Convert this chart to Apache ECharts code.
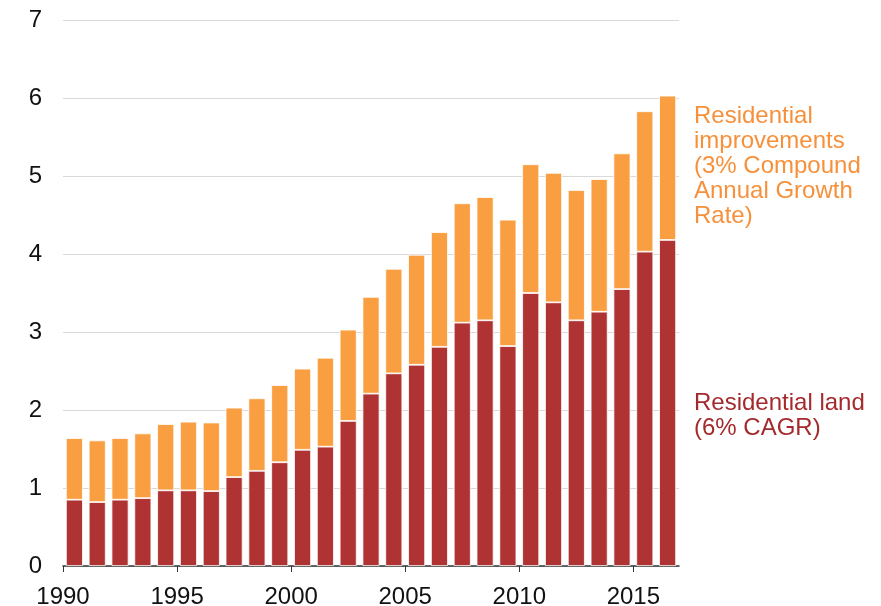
<!DOCTYPE html>
<html>
<head>
<meta charset="utf-8">
<script src="https://cdn.jsdelivr.net/npm/echarts@6/dist/echarts.min.js"></script>
<style>
  html, body { margin: 0; padding: 0; background: #fff; }
  #chart { width: 881px; height: 606px; }
</style>
</head>
<body>
<div id="chart"></div>
<script>
  // years 1990..2016
  const years = ['1990', '1991', '1992', '1993', '1994', '1995', '1996', '1997', '1998', '1999',
    '2000', '2001', '2002', '2003', '2004', '2005', '2006', '2007', '2008', '2009',
    '2010', '2011', '2012', '2013', '2014', '2015', '2016']
  // residential land (bottom, dark red)
  const landValues = [0.85, 0.82, 0.85, 0.87, 0.97, 0.97, 0.96, 1.14, 1.22, 1.33,
    1.49, 1.53, 1.86, 2.21, 2.47, 2.58, 2.81, 3.12, 3.15, 2.82,
    3.50, 3.38, 3.15, 3.26, 3.55, 4.03, 4.18]
  // residential improvements (top, orange)
  const improvementValues = [0.79, 0.79, 0.79, 0.83, 0.85, 0.88, 0.88, 0.89, 0.93, 0.99,
    1.04, 1.14, 1.17, 1.24, 1.34, 1.41, 1.47, 1.53, 1.58, 1.62,
    1.65, 1.66, 1.67, 1.70, 1.74, 1.80, 1.85]
  const yTicks = [0, 1, 2, 3, 4, 5, 6, 7]
  const xTickYears = [1990, 1995, 2000, 2005, 2010, 2015]

  const font = 'Liberation Sans, Arial, sans-serif'
  let mychart = echarts.init(document.getElementById('chart'))
  let options = {
    animation: false,
    grid: {
      left: 63,
      right: 202,
      top: 20,
      bottom: 40,
      containLabel: false,
      outerBoundsMode: 'none'
    },
    xAxis: [
      {
        type: 'category',
        data: years,
        axisLine: { show: false },
        axisTick: { show: false },
        axisLabel: { show: false }
      },
      {
        // year scale for boundary ticks/labels
        type: 'value',
        min: 1990,
        max: 2017,
        interval: 5,
        position: 'bottom',
        splitLine: { show: false },
        axisLine: { show: true, lineStyle: { color: '#333', width: 1.5 } },
        axisTick: { show: true, length: 6, lineStyle: { color: '#333' } },
        axisLabel: {
          color: '#111',
          fontSize: 24,
          fontFamily: font,
          margin: 19,
          showMaxLabel: false,
          formatter: (v) => xTickYears.indexOf(v) >= 0 ? String(v) : ''
        }
      }
    ],
    yAxis: {
      type: 'value',
      min: yTicks[0],
      max: yTicks[yTicks.length - 1],
      interval: 1,
      axisLine: { show: false },
      axisTick: { show: false },
      axisLabel: {
        color: '#111',
        fontSize: 24,
        fontFamily: font,
        margin: 21
      },
      splitLine: { lineStyle: { color: '#d9d9d9', width: 1 } }
    },
    series: [
      {
        name: 'Residential land',
        type: 'bar',
        stack: 'total',
        xAxisIndex: 0,
        barWidth: 17,
        data: landValues,
        itemStyle: { color: '#b03333', borderColor: '#fff', borderWidth: 0.8 }
      },
      {
        name: 'Residential improvements',
        type: 'bar',
        stack: 'total',
        xAxisIndex: 0,
        barWidth: 17,
        data: improvementValues,
        itemStyle: { color: '#f99e41', borderColor: '#fff', borderWidth: 0.8 }
      }
    ],
    graphic: [
      {
        type: 'text',
        left: 694,
        top: 104,
        style: {
          text: 'Residential\nimprovements\n(3% Compound\nAnnual Growth\nRate)',
          fill: '#f7903a',
          font: '24px ' + font,
          lineHeight: 25
        }
      },
      {
        type: 'text',
        left: 694,
        top: 391,
        style: {
          text: 'Residential land\n(6% CAGR)',
          fill: '#a52a2d',
          font: '24px ' + font,
          lineHeight: 25
        }
      }
    ]
  }
  mychart.setOption(options)
</script>
</body>
</html>
